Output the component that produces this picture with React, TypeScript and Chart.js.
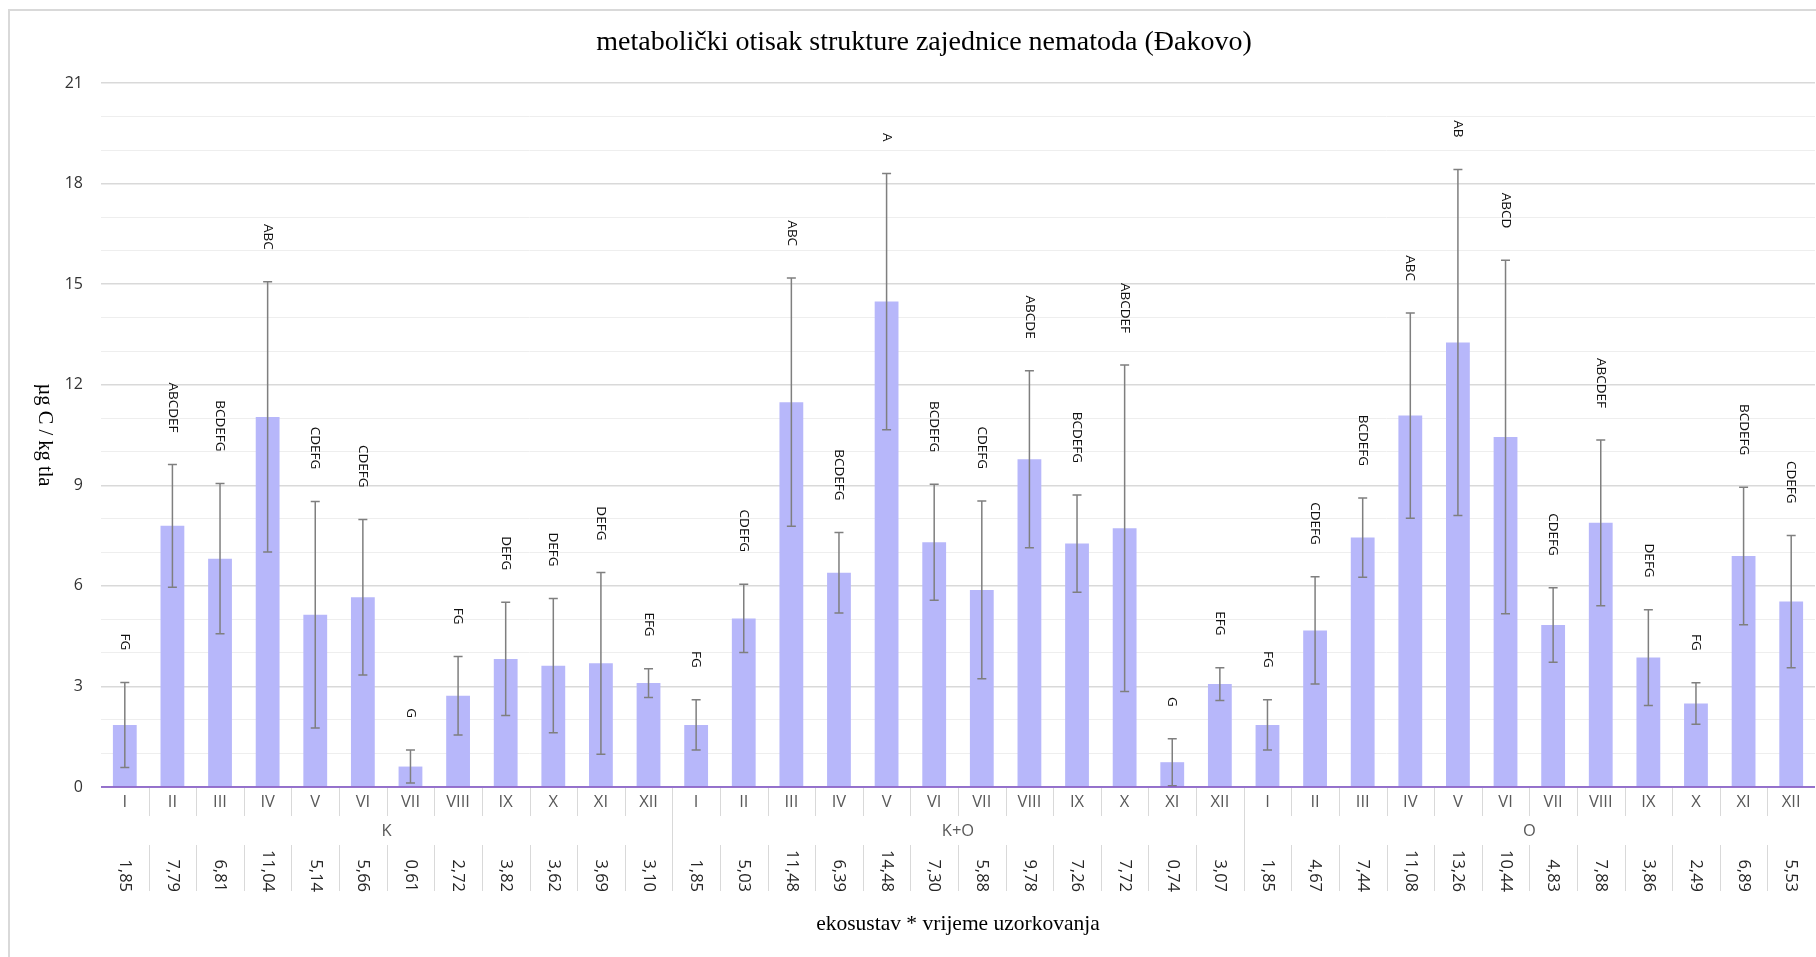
import React, { useEffect, useRef } from "react";
import { Chart, registerables } from "chart.js";

Chart.register(...registerables);

const chartTitle = "metabolički otisak strukture zajednice nematoda (Đakovo)";
const yTitle = "µg C / kg tla";
const xTitle = "ekosustav * vrijeme uzorkovanja";

const groupNames = ["K", "K+O", "O"];
const monthLabels = ["I", "II", "III", "IV", "V", "VI", "VII", "VIII", "IX", "X", "XI", "XII"];

const valuesK = [1.85, 7.79, 6.81, 11.04, 5.14, 5.66, 0.61, 2.72, 3.82, 3.62, 3.69, 3.1];
const valuesKO = [1.85, 5.03, 11.48, 6.39, 14.48, 7.3, 5.88, 9.78, 7.26, 7.72, 0.74, 3.07];
const valuesO = [1.85, 4.67, 7.44, 11.08, 13.26, 10.44, 4.83, 7.88, 3.86, 2.49, 6.89, 5.53];

const errK = [1.27, 1.83, 2.24, 4.03, 3.38, 2.32, 0.49, 1.17, 1.69, 2.0, 2.71, 0.43];
const errKO = [0.75, 1.02, 3.7, 1.2, 3.82, 1.73, 2.65, 2.64, 1.45, 4.87, 0.7, 0.49];
const errO = [0.75, 1.6, 1.18, 3.06, 5.16, 5.27, 1.11, 2.47, 1.43, 0.62, 2.05, 1.97];

const lettersK = ["FG", "ABCDEF", "BCDEFG", "ABC", "CDEFG", "CDEFG", "G", "FG", "DEFG", "DEFG", "DEFG", "EFG"];
const lettersKO = ["FG", "CDEFG", "ABC", "BCDEFG", "A", "BCDEFG", "CDEFG", "ABCDE", "BCDEFG", "ABCDEF", "G", "EFG"];
const lettersO = ["FG", "CDEFG", "BCDEFG", "ABC", "AB", "ABCD", "CDEFG", "ABCDEF", "DEFG", "FG", "BCDEFG", "CDEFG"];

const yMin = 0;
const yMax = 21;
const yLabelStep = 3;

const allValues = [...valuesK, ...valuesKO, ...valuesO];
const allErr = [...errK, ...errKO, ...errO];
const allLetters = [...lettersK, ...lettersKO, ...lettersO];
const allLabels = groupNames.flatMap((g) => monthLabels.map((m) => `${g} ${m}`));

const SANS = '"Open Sans", "DejaVu Sans", sans-serif';
const SERIF = '"Liberation Serif", "DejaVu Serif", serif';

const overlay = {
  id: "overlay",
  beforeDraw(chart: any) {
    const { ctx, width, height } = chart;
    ctx.save();
    ctx.fillStyle = "#ffffff";
    ctx.fillRect(0, 0, width, height);
    ctx.strokeStyle = "#d9d9d9";
    ctx.lineWidth = 2;
    ctx.strokeRect(9, 10, width + 40, height + 40);
    ctx.restore();
  },
  afterDatasetsDraw(chart: any) {
    const { ctx, chartArea } = chart;
    const xs = chart.scales.x;
    const ys = chart.scales.y;
    const meta = chart.getDatasetMeta(0);
    const n = allValues.length;
    const w = (chartArea.right - chartArea.left) / n;
    ctx.save();

    // error bars
    ctx.strokeStyle = "#7f7f7f";
    ctx.lineWidth = 1.5;
    for (let i = 0; i < n; i++) {
      const x = meta.data[i].x;
      const yHi = ys.getPixelForValue(allValues[i] + allErr[i]);
      const yLo = ys.getPixelForValue(Math.max(0, allValues[i] - allErr[i]));
      ctx.beginPath();
      ctx.moveTo(x, yHi);
      ctx.lineTo(x, yLo);
      ctx.moveTo(x - 4.5, yHi);
      ctx.lineTo(x + 4.5, yHi);
      ctx.moveTo(x - 4.5, yLo);
      ctx.lineTo(x + 4.5, yLo);
      ctx.stroke();
    }

    // letters
    ctx.fillStyle = "#111111";
    ctx.font = `13.5px ${SANS}`;
    for (let i = 0; i < n; i++) {
      const x = meta.data[i].x;
      const yHi = ys.getPixelForValue(allValues[i] + allErr[i]);
      ctx.save();
      ctx.translate(x, yHi - 32);
      ctx.rotate(Math.PI / 2);
      ctx.textAlign = "right";
      ctx.textBaseline = "middle";
      ctx.fillText(allLetters[i], 0, 0);
      ctx.restore();
    }

    // axis line
    const yb = chartArea.bottom;
    ctx.strokeStyle = "#7b4cc4";
    ctx.lineWidth = 1.5;
    ctx.beginPath();
    ctx.moveTo(chartArea.left, yb);
    ctx.lineTo(chartArea.right, yb);
    ctx.stroke();

    // separators
    ctx.strokeStyle = "#d9d9d9";
    ctx.lineWidth = 1;
    for (let i = 1; i < n; i++) {
      const x = Math.round(chartArea.left + i * w) + 0.5;
      ctx.beginPath();
      if (i % monthLabels.length === 0) {
        ctx.moveTo(x, yb + 1);
        ctx.lineTo(x, yb + 104);
      } else {
        ctx.moveTo(x, yb + 1);
        ctx.lineTo(x, yb + 29);
        ctx.moveTo(x, yb + 58);
        ctx.lineTo(x, yb + 104);
      }
      ctx.stroke();
    }

    // month labels
    ctx.fillStyle = "#595959";
    ctx.font = `16.5px ${SANS}`;
    ctx.textAlign = "center";
    ctx.textBaseline = "middle";
    for (let i = 0; i < n; i++) {
      const x = xs.getPixelForValue(i);
      ctx.fillText(monthLabels[i % monthLabels.length], x, yb + 15);
    }
    // group labels
    groupNames.forEach((g, gi) => {
      const x0 = chartArea.left + gi * monthLabels.length * w;
      const x1 = x0 + monthLabels.length * w;
      ctx.fillText(g, (x0 + x1) / 2, yb + 44);
    });

    // data table values
    ctx.fillStyle = "#262626";
    ctx.font = `16.5px ${SANS}`;
    for (let i = 0; i < n; i++) {
      const x = xs.getPixelForValue(i);
      ctx.save();
      ctx.translate(x, yb + 105);
      ctx.rotate(Math.PI / 2);
      ctx.textAlign = "right";
      ctx.textBaseline = "middle";
      ctx.fillText(allValues[i].toFixed(2).replace(".", ","), 0, 0);
      ctx.restore();
    }

    // titles
    ctx.fillStyle = "#000000";
    ctx.font = `28px ${SERIF}`;
    ctx.textAlign = "center";
    ctx.textBaseline = "middle";
    ctx.fillText(chartTitle, 924, 43);

    ctx.font = `21.5px ${SERIF}`;
    ctx.fillText(xTitle, (chartArea.left + chartArea.right) / 2, 924);

    ctx.font = `20.5px ${SERIF}`;
    ctx.save();
    ctx.translate(44, (chartArea.top + chartArea.bottom) / 2);
    ctx.rotate(Math.PI / 2);
    ctx.fillText(yTitle, 0, 0);
    ctx.restore();

    ctx.restore();
  },
};

export default function App() {
  const canvasRef = useRef<HTMLCanvasElement | null>(null);

  useEffect(() => {
    document.body.style.margin = "0";
    const canvas = canvasRef.current;
    if (!canvas) return;
    const chart = new Chart(canvas, {
      type: "bar",
      data: {
        labels: allLabels,
        datasets: [
          {
            data: allValues,
            backgroundColor: "#b7b7fa",
            barPercentage: 0.5,
            categoryPercentage: 1,
          },
        ],
      },
      options: {
        responsive: false,
        animation: false,
        devicePixelRatio: 1,
        layout: { padding: { left: 0, right: 1, top: 83, bottom: 0 } },
        plugins: {
          legend: { display: false },
          title: { display: false },
          tooltip: { enabled: false },
        },
        scales: {
          x: {
            type: "category",
            offset: true,
            grid: { display: false },
            border: { display: false },
            ticks: { display: false },
            afterFit: (s: any) => {
              s.height = 170;
            },
          },
          y: {
            min: yMin,
            max: yMax,
            border: { display: false },
            grid: {
              drawTicks: false,
              color: (c: any) =>
                c.tick && c.tick.value % yLabelStep === 0 ? "#d9d9d9" : "#eeeeee",
              lineWidth: (c: any) => (c.tick && c.tick.value % yLabelStep === 0 ? 1.5 : 1),
            },
            ticks: {
              stepSize: 1,
              autoSkip: false,
              padding: 18,
              color: "#333333",
              font: { family: '"Open Sans", sans-serif', size: 16 },
              callback: (v: any) => (Number(v) % yLabelStep === 0 ? String(v) : ""),
            },
            afterFit: (s: any) => {
              s.width = 101;
            },
          },
        },
      },
      plugins: [overlay],
    });
    return () => chart.destroy();
  }, []);

  return (
    <div style={{ position: "absolute", left: 0, top: 0, width: 1816, height: 957 }}>
      <canvas ref={canvasRef} width={1816} height={957} style={{ width: 1816, height: 957 }} />
    </div>
  );
}
